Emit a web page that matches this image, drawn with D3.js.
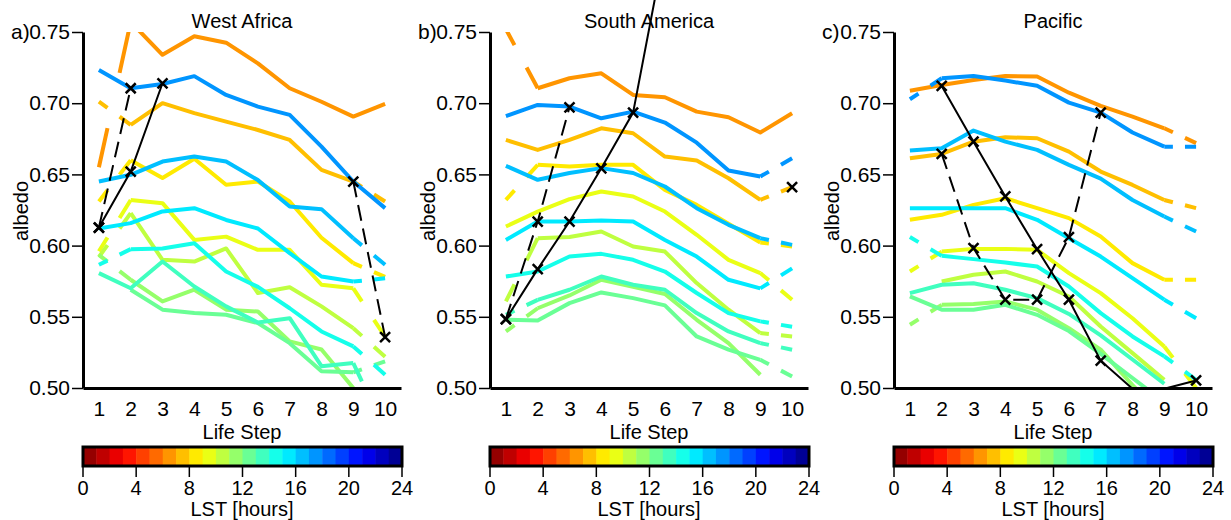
<!DOCTYPE html>
<html>
<head>
<meta charset="utf-8">
<script src="https://cdn.jsdelivr.net/npm/d3@7"></script>
<style>
  body { margin: 0; background: #fff; }
  svg { display: block; font-family: "Liberation Sans", Arial, sans-serif; }
</style>
</head>
<body>
<svg width="1231" height="520"></svg>
<script>
// life steps on the x axis, one coloured line per local solar time hour
const steps = d3.range(1, 11);
const hours = d3.range(6, 18);
const albedoTicks = [0.50, 0.55, 0.60, 0.65, 0.70, 0.75];
const lstTicks = [0, 4, 8, 12, 16, 20, 24];
const titles = ["West Africa", "South America", "Pacific"];
const tags = ["a)", "b)", "c)"];

// rows: hours 6..17, columns: life step 1..10 (null = no value)
const westAfrica = [
  [0.655, 0.757, 0.734, 0.747, 0.7425, 0.728, 0.7105, 0.701, 0.6906, 0.6995],
  [0.7011, 0.6848, 0.700, 0.693, 0.6871, 0.6812, 0.6742, 0.6532, 0.645, 0.631],
  [0.631, 0.660, 0.6475, 0.661, 0.6427, 0.645, 0.631, 0.6055, 0.5877, 0.578],
  [0.596, 0.632, 0.6298, 0.604, 0.6063, 0.597, 0.597, 0.5725, 0.570, 0.536],
  [0.592, 0.6228, 0.590, 0.5888, 0.598, 0.5667, 0.5708, 0.5573, 0.542, 0.522],
  [0.5935, 0.576, 0.5608, 0.569, 0.555, 0.5537, 0.5327, 0.527, 0.500, null],
  [null, 0.569, 0.555, 0.5526, 0.5514, 0.5456, 0.5315, 0.5117, 0.511, 0.5187],
  [0.5807, 0.570, 0.5888, 0.5713, 0.5573, 0.546, 0.549, 0.5153, 0.5175, 0.47],
  [0.5865, 0.5975, 0.598, 0.6017, 0.5818, 0.571, 0.556, 0.5397, 0.5292, 0.5093],
  [0.612, 0.6158, 0.624, 0.6263, 0.618, 0.612, 0.5947, 0.5783, 0.5748, 0.577],
  [0.645, 0.6497, 0.659, 0.6625, 0.659, 0.646, 0.6274, 0.6256, 0.6052, 0.5865],
  [0.7233, 0.7105, 0.7135, 0.719, 0.7058, 0.6976, 0.6918, 0.6695, 0.645, 0.6263]
];
// segments (start index) drawn broken
const westAfricaGaps = [[0], [0, 8], [0, 8], [0, 8], [0, 8], [0], [8], [8], [0, 8], [8], [8], []];
const westAfricaSolid = [0.6127, 0.652, 0.714, null, null, null, null, null, null, null];
const westAfricaDashed = [0.6127, 0.7105, null, null, null, null, null, null, 0.645, 0.5358];

const southAmerica = [
  [0.752, 0.7105, 0.7175, 0.721, 0.7058, 0.7042, 0.6941, 0.6901, 0.6794, 0.693],
  [0.6742, 0.6672, 0.6742, 0.6824, 0.6789, 0.6625, 0.6597, 0.6473, 0.6321, 0.641],
  [0.6321, 0.6567, 0.6555, 0.6567, 0.6567, 0.6391, 0.6286, 0.6153, 0.6022, 0.5994],
  [0.6134, 0.6239, 0.6326, 0.638, 0.6345, 0.6239, 0.6076, 0.590, 0.5807, 0.562],
  [0.5608, 0.6052, 0.606, 0.6099, 0.5994, 0.5958, 0.5737, 0.555, 0.5386, 0.5362],
  [0.5397, 0.556, 0.565, 0.576, 0.571, 0.566, 0.5479, 0.5315, 0.5093, null],
  [0.5479, 0.5474, 0.5596, 0.5671, 0.5631, 0.558, 0.5362, 0.5269, 0.5198, 0.5081],
  [0.5514, 0.5619, 0.569, 0.5783, 0.5725, 0.569, 0.5526, 0.5397, 0.5315, 0.5269],
  [0.5783, 0.5818, 0.5923, 0.5942, 0.590, 0.5818, 0.5667, 0.5526, 0.5468, 0.543],
  [0.604, 0.6169, 0.6169, 0.6176, 0.6169, 0.604, 0.5923, 0.576, 0.570, 0.584],
  [0.656, 0.6462, 0.651, 0.6544, 0.651, 0.6415, 0.6263, 0.6146, 0.6052, 0.6005],
  [0.691, 0.6988, 0.6976, 0.6894, 0.6941, 0.6864, 0.6723, 0.6527, 0.6485, 0.6613]
];
const southAmericaGaps = [[0], [8], [0, 8], [8], [0, 8], [0], [8], [0, 8], [8], [8], [8], [8]];
const southAmericaSolid = [0.5484, 0.5835, 0.6169, 0.6543, 0.6934, 0.81, null, null, null, null];
const southAmericaDashed = [0.5484, 0.6169, 0.6971, null, null, null, null, null, null, 0.641];

const pacific = [
  [0.7088, 0.7128, 0.7163, 0.7191, 0.7187, 0.7074, 0.6981, 0.6906, 0.6824, 0.672],
  [0.6613, 0.6644, 0.673, 0.6761, 0.6754, 0.666, 0.652, 0.6426, 0.632, 0.6263],
  [0.6181, 0.6216, 0.6286, 0.6333, 0.6263, 0.6193, 0.6064, 0.5877, 0.576, 0.576],
  [0.5818, 0.5958, 0.5977, 0.5977, 0.597, 0.5807, 0.5666, 0.549, 0.5292, 0.500],
  [null, 0.5748, 0.5795, 0.5818, 0.5748, 0.5643, 0.5432, 0.5245, 0.5058, null],
  [0.5444, 0.5584, 0.559, 0.5608, 0.555, 0.542, 0.527, 0.502, 0.48, null],
  [0.5643, 0.555, 0.555, 0.5584, 0.5514, 0.540, 0.524, 0.507, 0.49, null],
  [0.5666, 0.5725, 0.5736, 0.569, 0.5631, 0.552, 0.537, 0.52, 0.503, null],
  [0.606, 0.5928, 0.5905, 0.5881, 0.5853, 0.5713, 0.5526, 0.5362, 0.5222, 0.5058],
  [0.6263, 0.6263, 0.6263, 0.6263, 0.6181, 0.6052, 0.5923, 0.5772, 0.562, 0.549],
  [0.6667, 0.6684, 0.6808, 0.673, 0.6672, 0.6567, 0.647, 0.632, 0.6204, 0.6099],
  [0.7028, 0.7175, 0.7191, 0.7159, 0.7122, 0.7004, 0.6934, 0.6794, 0.6695, 0.6695]
];
const pacificGaps = [[8], [8], [8], [0, 8], [], [0], [], [], [0, 8], [8], [8], [0, 8]];
const pacificSolid = [null, 0.7121, 0.673, 0.6345, 0.5975, 0.562, 0.5192, 0.4995, 0.4995, 0.5053];
const pacificDashed = [null, 0.6644, 0.5982, 0.562, 0.562, 0.6059, 0.6934, null, null, null];

const panels = [
  { left: 83, values: westAfrica, gaps: westAfricaGaps, solid: westAfricaSolid, dashed: westAfricaDashed },
  { left: 490, values: southAmerica, gaps: southAmericaGaps, solid: southAmericaSolid, dashed: southAmericaDashed },
  { left: 894, values: pacific, gaps: pacificGaps, solid: pacificSolid, dashed: pacificDashed }
];

const svg = d3.select("svg");
const plotWidth = 318;
const plotTop = 32;
const plotBottom = 388;

// reversed jet: red at midnight, blue at the end of the day
const clamp = v => Math.max(0, Math.min(1, v));
const jet = t => d3.rgb(
  255 * clamp(1.5 - Math.abs(4 * t - 3)),
  255 * clamp(1.5 - Math.abs(4 * t - 2)),
  255 * clamp(1.5 - Math.abs(4 * t - 1))
);
const hourColor = h => jet(1 - (h + 0.5) / 24).formatHex();

const defs = svg.append("defs");

panels.forEach((p, k) => {
  const xScale = d3.scaleLinear().domain([0.5, 10.5]).range([p.left, p.left + plotWidth]);
  const yScale = d3.scaleLinear().domain([0.5, 0.75]).range([plotBottom, plotTop]);
  const idx = d3.range(steps.length);

  defs.append("clipPath").attr("id", "clip" + k)
    .append("rect")
    .attr("x", p.left).attr("y", plotTop)
    .attr("width", plotWidth).attr("height", plotBottom - plotTop);

  const lineG = svg.append("g").attr("clip-path", `url(#clip${k})`);

  p.values.forEach((vals, j) => {
    const color = hourColor(hours[j]);
    const gaps = p.gaps[j];
    const runs = [];
    const broken = [];
    let cur = null;
    for (let i = 0; i < vals.length - 1; i++) {
      const ok = vals[i] != null && vals[i + 1] != null;
      if (ok && !gaps.includes(i)) {
        if (!cur) { cur = [i]; runs.push(cur); }
        cur.push(i + 1);
      } else {
        cur = null;
        if (ok) broken.push(i);
      }
    }
    const line = d3.line().x(i => xScale(steps[i])).y(i => yScale(vals[i]));
    runs.forEach(r => {
      lineG.append("path")
        .attr("d", line(r))
        .attr("fill", "none")
        .attr("stroke", color)
        .attr("stroke-width", 4)
        .attr("stroke-linejoin", "round");
    });
    broken.forEach(i => {
      const dx = xScale(steps[i + 1]) - xScale(steps[i]);
      const dy = yScale(vals[i + 1]) - yScale(vals[i]);
      const len = Math.hypot(dx, dy);
      lineG.append("path")
        .attr("d", line([i, i + 1]))
        .attr("fill", "none")
        .attr("stroke", color)
        .attr("stroke-width", 4)
        .attr("stroke-dasharray", `${0.27 * len},${0.38 * len},${0.35 * len}`);
    });
  });

  // black tracks with cross markers
  const track = vals => d3.line()
    .defined(i => vals[i] != null)
    .x(i => xScale(steps[i]))
    .y(i => yScale(vals[i]))(idx);

  svg.append("path")
    .attr("d", track(p.solid))
    .attr("fill", "none").attr("stroke", "#000").attr("stroke-width", 2);
  svg.append("path")
    .attr("d", track(p.dashed))
    .attr("fill", "none").attr("stroke", "#000").attr("stroke-width", 2)
    .attr("stroke-dasharray", "16,8");

  const marks = [];
  [p.solid, p.dashed].forEach(vals => {
    vals.forEach((v, i) => {
      if (v != null && v >= 0.5 && v <= 0.75) marks.push([xScale(steps[i]), yScale(v)]);
    });
  });
  const s = 5;
  svg.append("g").selectAll("path")
    .data(marks)
    .join("path")
    .attr("d", d => `M${d[0] - s},${d[1] - s}L${d[0] + s},${d[1] + s}M${d[0] - s},${d[1] + s}L${d[0] + s},${d[1] - s}`)
    .attr("stroke", "#000").attr("stroke-width", 2.5);

  // axes
  const yAxisG = svg.append("g")
    .attr("transform", `translate(${p.left},0)`)
    .call(d3.axisLeft(yScale).tickValues(albedoTicks).tickFormat(d3.format(".2f"))
      .tickSize(11).tickSizeOuter(0).tickPadding(2));
  yAxisG.attr("font-size", 21).attr("font-family", null);
  yAxisG.select(".domain").attr("stroke-width", 3);
  yAxisG.selectAll(".tick line").attr("stroke-width", 1.5);
  yAxisG.selectAll(".tick text").attr("fill", "#000");

  const xAxisG = svg.append("g")
    .attr("transform", `translate(0,${plotBottom})`)
    .call(d3.axisBottom(xScale).tickValues(steps).tickSize(0).tickSizeOuter(0).tickPadding(13));
  xAxisG.attr("font-size", 21).attr("font-family", null);
  xAxisG.select(".domain").attr("stroke-width", 3);
  xAxisG.selectAll(".tick text").attr("fill", "#000");

  const cx = p.left + 159;
  svg.append("text").attr("x", p.left - 72).attr("y", yScale(0.75)).attr("dy", "0.32em")
    .attr("font-size", 21).text(tags[k]);
  svg.append("text").attr("x", cx).attr("y", 28).attr("text-anchor", "middle")
    .attr("font-size", 20).text(titles[k]);
  svg.append("text")
    .attr("transform", `translate(${p.left - 62},211) rotate(-90)`)
    .attr("text-anchor", "middle").attr("dy", "0.35em")
    .attr("font-size", 20).text("albedo");
  svg.append("text").attr("x", cx).attr("y", 439).attr("text-anchor", "middle")
    .attr("font-size", 20).text("Life Step");

  // colour bar
  const lst = d3.scaleLinear().domain([0, 24]).range([p.left, p.left + 319]);
  const cb = svg.append("g");
  cb.selectAll("rect")
    .data(d3.range(24))
    .join("rect")
    .attr("x", h => lst(h))
    .attr("y", 447)
    .attr("width", h => lst(h + 1) - lst(h) + 0.5)
    .attr("height", 19)
    .attr("fill", h => hourColor(h));
  cb.append("rect")
    .attr("x", lst(0)).attr("y", 447)
    .attr("width", lst(24) - lst(0)).attr("height", 19)
    .attr("fill", "none").attr("stroke", "#000").attr("stroke-width", 3);
  cb.selectAll("line")
    .data(lstTicks)
    .join("line")
    .attr("x1", t => lst(t)).attr("x2", t => lst(t))
    .attr("y1", 466).attr("y2", 477)
    .attr("stroke", "#000").attr("stroke-width", 1.5);
  cb.selectAll("text.lst")
    .data(lstTicks)
    .join("text")
    .attr("class", "lst")
    .attr("x", t => lst(t)).attr("y", 495)
    .attr("text-anchor", "middle").attr("font-size", 20)
    .text(t => t);
  svg.append("text").attr("x", cx).attr("y", 516).attr("text-anchor", "middle")
    .attr("font-size", 20).text("LST [hours]");
});
</script>
</body>
</html>
